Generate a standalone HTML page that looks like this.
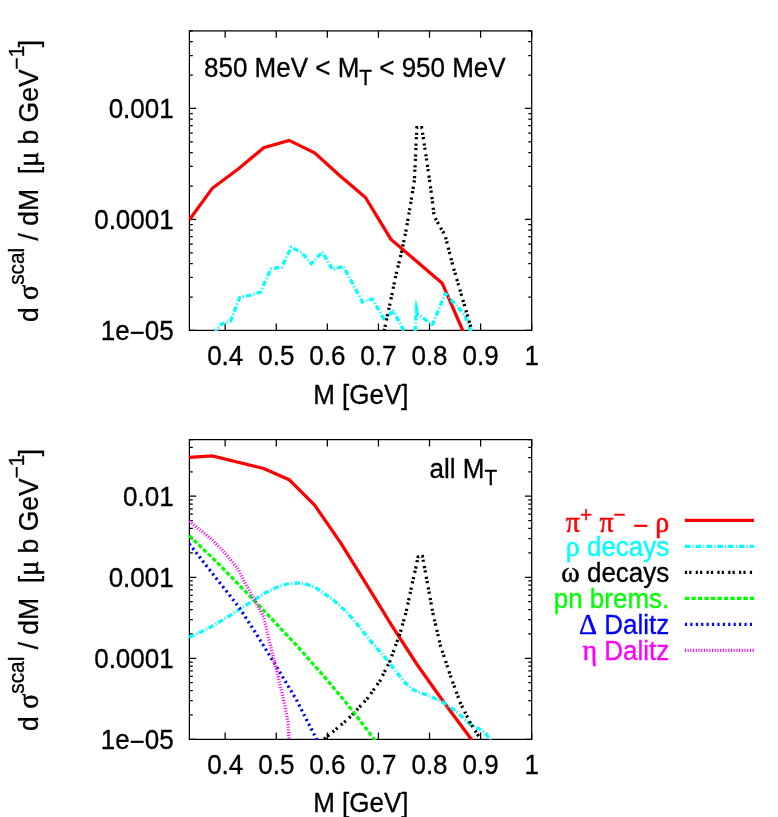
<!DOCTYPE html><html><head><meta charset="utf-8"><title>plot</title><style>html,body{margin:0;padding:0;background:#fff}svg{display:block;will-change:transform}text{font-family:"Liberation Sans",sans-serif;font-size:26px;fill:#000}.sy{font-family:"Liberation Serif",serif;font-size:28px;stroke-width:.5px}</style></head><body>
<svg width="778" height="817" viewBox="0 0 778 817">
<rect width="778" height="817" fill="#fff"/>
<defs><clipPath id="ct"><rect x="188.9" y="30.4" width="343.3" height="300.5"/></clipPath><clipPath id="cb"><rect x="188.9" y="439.1" width="343.3" height="300.8"/></clipPath></defs>
<path d="M189.4,330.40h6.8 M531.7,330.40h-6.8 M189.4,297.00h3.4 M531.7,297.00h-3.4 M189.4,277.45h3.4 M531.7,277.45h-3.4 M189.4,263.59h3.4 M531.7,263.59h-3.4 M189.4,252.84h3.4 M531.7,252.84h-3.4 M189.4,244.05h3.4 M531.7,244.05h-3.4 M189.4,236.62h3.4 M531.7,236.62h-3.4 M189.4,230.19h3.4 M531.7,230.19h-3.4 M189.4,224.51h3.4 M531.7,224.51h-3.4 M189.4,219.43h6.8 M531.7,219.43h-6.8 M189.4,186.03h3.4 M531.7,186.03h-3.4 M189.4,166.49h3.4 M531.7,166.49h-3.4 M189.4,152.62h3.4 M531.7,152.62h-3.4 M189.4,141.87h3.4 M531.7,141.87h-3.4 M189.4,133.08h3.4 M531.7,133.08h-3.4 M189.4,125.65h3.4 M531.7,125.65h-3.4 M189.4,119.22h3.4 M531.7,119.22h-3.4 M189.4,113.54h3.4 M531.7,113.54h-3.4 M189.4,108.46h6.8 M531.7,108.46h-6.8 M189.4,75.06h3.4 M531.7,75.06h-3.4 M189.4,55.52h3.4 M531.7,55.52h-3.4 M189.4,41.65h3.4 M531.7,41.65h-3.4 M189.4,30.90h3.4 M531.7,30.90h-3.4 M225.16,330.4v-6.8 M225.16,30.9v6.8 M276.25,330.4v-6.8 M276.25,30.9v6.8 M327.34,330.4v-6.8 M327.34,30.9v6.8 M378.43,330.4v-6.8 M378.43,30.9v6.8 M429.52,330.4v-6.8 M429.52,30.9v6.8 M480.61,330.4v-6.8 M480.61,30.9v6.8 M531.70,330.4v-6.8 M531.70,30.9v6.8" stroke="#000" stroke-width="1.25" fill="none"/>
<rect x="189.4" y="30.9" width="342.3" height="299.5" fill="none" stroke="#000" stroke-width="1.25"/>
<text xml:space="preserve" transform="translate(173.7,117.8) scale(1,1.060)" text-anchor="end" style="stroke:#000;stroke-width:.3px">0.001</text>
<text xml:space="preserve" transform="translate(173.7,228.7) scale(1,1.060)" text-anchor="end" style="stroke:#000;stroke-width:.3px">0.0001</text>
<text xml:space="preserve" transform="translate(173.7,339.7) scale(1,1.060)" text-anchor="end" style="stroke:#000;stroke-width:.3px">1e<tspan dy="1.8">−</tspan><tspan dy="-1.8">05</tspan></text>
<text xml:space="preserve" transform="translate(225.2,365.4) scale(1,1.060)" text-anchor="middle" style="stroke:#000;stroke-width:.3px">0.4</text>
<text xml:space="preserve" transform="translate(276.3,365.4) scale(1,1.060)" text-anchor="middle" style="stroke:#000;stroke-width:.3px">0.5</text>
<text xml:space="preserve" transform="translate(327.3,365.4) scale(1,1.060)" text-anchor="middle" style="stroke:#000;stroke-width:.3px">0.6</text>
<text xml:space="preserve" transform="translate(378.4,365.4) scale(1,1.060)" text-anchor="middle" style="stroke:#000;stroke-width:.3px">0.7</text>
<text xml:space="preserve" transform="translate(429.5,365.4) scale(1,1.060)" text-anchor="middle" style="stroke:#000;stroke-width:.3px">0.8</text>
<text xml:space="preserve" transform="translate(480.6,365.4) scale(1,1.060)" text-anchor="middle" style="stroke:#000;stroke-width:.3px">0.9</text>
<text xml:space="preserve" transform="translate(531.7,365.4) scale(1,1.060)" text-anchor="middle" style="stroke:#000;stroke-width:.3px">1</text>
<text xml:space="preserve" transform="translate(360.9,403.7) scale(1,1.060)" text-anchor="middle" style="stroke:#000;stroke-width:.3px">M [GeV]</text>
<text xml:space="preserve" transform="translate(38.0,181.0) rotate(-90) scale(1,1.060)" text-anchor="middle" style="stroke:#000;stroke-width:.3px"><tspan font-size="26.5">d </tspan><tspan class="sy">σ</tspan><tspan font-size="20.8" dy="-13">scal</tspan><tspan dy="13" font-size="26.5"> / dM  [</tspan><tspan class="sy" font-size="26.5">μ</tspan><tspan font-size="26.5"> b GeV</tspan><tspan font-size="20.8" dy="-13">−1</tspan><tspan dy="13" dx="-1.7" font-size="26.5">]</tspan></text>
<g clip-path="url(#ct)">
<path d="M189.2,220.0 L212.3,188.3 L238.2,169.0 L263.7,147.8 L289.1,140.4 L314.6,152.9 L339.6,175.5 L365.5,197.5 L390.8,239.2 L442.2,283.2 L467.8,342.0" fill="none" stroke="#ff0000" stroke-width="3.25" stroke-linejoin="miter" stroke-miterlimit="10" />
<path d="M213.5,334.0 L221.5,324.0 L230.4,321.2 L239.8,297.5 L250.5,295.2 L260.6,292.0 L270.8,269.0 L281.8,267.0 L291.3,247.2 L301.6,252.6 L311.4,263.7 L322.3,252.0 L332.6,269.6 L343.2,266.2 L352.9,284.0 L362.4,302.0 L372.5,299.1 L383.6,318.5 L393.5,311.6 L405.2,333.0" fill="none" stroke="#00ffff" stroke-width="3.25" stroke-dasharray="5.415,2.166,1.083,2.166" stroke-linejoin="miter" stroke-miterlimit="10" />
<path d="M415.0,334.0 L416.2,310.0 L417.0,313.6 L432.4,324.9 L445.3,293.3 L465.0,315.3 L471.4,333.0" fill="none" stroke="#00ffff" stroke-width="3.25" stroke-dasharray="5.415,2.166,1.083,2.166" stroke-dashoffset="8.1" stroke-linejoin="bevel"/>
<path d="M415.7,298.8 L414.6,310 L418.9,311 Z" fill="#00ffff"/>
<path d="M383.6,333.0 L384.3,329.9 L390.5,301.4 L395.9,275.2 L402.0,250.5 L406.6,227.5 L409.1,212.8 L412.5,192.2 L414.4,180.5 L415.4,158.5 L416.9,127.6 L421.7,127.6 L424.2,143.8 L426.4,158.5 L429.6,180.5 L432.6,202.5 L434.0,215.7 L440.4,227.5 L445.0,235.0 L452.9,265.9 L460.6,292.1 L472.6,333.0" fill="none" stroke="#000000" stroke-width="3.25" stroke-dasharray="2.166,2.166,2.166,4.332" stroke-linejoin="miter" stroke-miterlimit="10" stroke-dashoffset="8.85"/>
</g>
<text xml:space="preserve" transform="translate(204.0,77.3) scale(1,1.060)" text-anchor="start" style="stroke:#000;stroke-width:.3px">850 MeV &lt; M<tspan font-size="20.8" dy="7.2">T</tspan><tspan dy="-7.2"> &lt; 950 MeV</tspan></text>
<path d="M189.4,739.35h6.8 M531.7,739.35h-6.8 M189.4,714.96h3.4 M531.7,714.96h-3.4 M189.4,700.69h3.4 M531.7,700.69h-3.4 M189.4,690.56h3.4 M531.7,690.56h-3.4 M189.4,682.71h3.4 M531.7,682.71h-3.4 M189.4,676.29h3.4 M531.7,676.29h-3.4 M189.4,670.87h3.4 M531.7,670.87h-3.4 M189.4,666.17h3.4 M531.7,666.17h-3.4 M189.4,662.02h3.4 M531.7,662.02h-3.4 M189.4,658.31h6.8 M531.7,658.31h-6.8 M189.4,633.92h3.4 M531.7,633.92h-3.4 M189.4,619.65h3.4 M531.7,619.65h-3.4 M189.4,609.53h3.4 M531.7,609.53h-3.4 M189.4,601.67h3.4 M531.7,601.67h-3.4 M189.4,595.26h3.4 M531.7,595.26h-3.4 M189.4,589.83h3.4 M531.7,589.83h-3.4 M189.4,585.13h3.4 M531.7,585.13h-3.4 M189.4,580.99h3.4 M531.7,580.99h-3.4 M189.4,577.28h6.8 M531.7,577.28h-6.8 M189.4,552.88h3.4 M531.7,552.88h-3.4 M189.4,538.61h3.4 M531.7,538.61h-3.4 M189.4,528.49h3.4 M531.7,528.49h-3.4 M189.4,520.64h3.4 M531.7,520.64h-3.4 M189.4,514.22h3.4 M531.7,514.22h-3.4 M189.4,508.79h3.4 M531.7,508.79h-3.4 M189.4,504.09h3.4 M531.7,504.09h-3.4 M189.4,499.95h3.4 M531.7,499.95h-3.4 M189.4,496.24h6.8 M531.7,496.24h-6.8 M189.4,471.85h3.4 M531.7,471.85h-3.4 M189.4,457.58h3.4 M531.7,457.58h-3.4 M189.4,447.45h3.4 M531.7,447.45h-3.4 M189.4,439.60h3.4 M531.7,439.60h-3.4 M225.16,739.4v-6.8 M225.16,439.6v6.8 M276.25,739.4v-6.8 M276.25,439.6v6.8 M327.34,739.4v-6.8 M327.34,439.6v6.8 M378.43,739.4v-6.8 M378.43,439.6v6.8 M429.52,739.4v-6.8 M429.52,439.6v6.8 M480.61,739.4v-6.8 M480.61,439.6v6.8 M531.70,739.4v-6.8 M531.70,439.6v6.8" stroke="#000" stroke-width="1.25" fill="none"/>
<rect x="189.4" y="439.6" width="342.3" height="299.8" fill="none" stroke="#000" stroke-width="1.25"/>
<text xml:space="preserve" transform="translate(173.7,505.5) scale(1,1.060)" text-anchor="end" style="stroke:#000;stroke-width:.3px">0.01</text>
<text xml:space="preserve" transform="translate(173.7,586.6) scale(1,1.060)" text-anchor="end" style="stroke:#000;stroke-width:.3px">0.001</text>
<text xml:space="preserve" transform="translate(173.7,667.6) scale(1,1.060)" text-anchor="end" style="stroke:#000;stroke-width:.3px">0.0001</text>
<text xml:space="preserve" transform="translate(173.7,748.6) scale(1,1.060)" text-anchor="end" style="stroke:#000;stroke-width:.3px">1e<tspan dy="1.8">−</tspan><tspan dy="-1.8">05</tspan></text>
<text xml:space="preserve" transform="translate(225.2,774.4) scale(1,1.060)" text-anchor="middle" style="stroke:#000;stroke-width:.3px">0.4</text>
<text xml:space="preserve" transform="translate(276.3,774.4) scale(1,1.060)" text-anchor="middle" style="stroke:#000;stroke-width:.3px">0.5</text>
<text xml:space="preserve" transform="translate(327.3,774.4) scale(1,1.060)" text-anchor="middle" style="stroke:#000;stroke-width:.3px">0.6</text>
<text xml:space="preserve" transform="translate(378.4,774.4) scale(1,1.060)" text-anchor="middle" style="stroke:#000;stroke-width:.3px">0.7</text>
<text xml:space="preserve" transform="translate(429.5,774.4) scale(1,1.060)" text-anchor="middle" style="stroke:#000;stroke-width:.3px">0.8</text>
<text xml:space="preserve" transform="translate(480.6,774.4) scale(1,1.060)" text-anchor="middle" style="stroke:#000;stroke-width:.3px">0.9</text>
<text xml:space="preserve" transform="translate(531.7,774.4) scale(1,1.060)" text-anchor="middle" style="stroke:#000;stroke-width:.3px">1</text>
<text xml:space="preserve" transform="translate(360.9,812.2) scale(1,1.060)" text-anchor="middle" style="stroke:#000;stroke-width:.3px">M [GeV]</text>
<text xml:space="preserve" transform="translate(38.0,589.9) rotate(-90) scale(1,1.060)" text-anchor="middle" style="stroke:#000;stroke-width:.3px"><tspan font-size="26.5">d </tspan><tspan class="sy">σ</tspan><tspan font-size="20.8" dy="-13">scal</tspan><tspan dy="13" font-size="26.5"> / dM  [</tspan><tspan class="sy" font-size="26.5">μ</tspan><tspan font-size="26.5"> b GeV</tspan><tspan font-size="20.8" dy="-13">−1</tspan><tspan dy="13" dx="-1.7" font-size="26.5">]</tspan></text>
<g clip-path="url(#cb)">
<path d="M189.2,457.4 L212.3,455.8 L263.7,468.5 L289.1,479.7 L314.6,505.1 L340.5,542.6 L365.7,583.1 L391.2,624.6 L416.7,664.0 L442.2,700.0 L467.8,734.5 L493.3,770.0" fill="none" stroke="#ff0000" stroke-width="3.25" stroke-linejoin="miter" stroke-miterlimit="10" />
<path d="M189.2,637.2 L208.1,628.6 L231.3,614.7 L254.4,599.7 L265.0,593.0 L277.5,587.0 L287.0,584.0 L297.2,583.0 L306.0,584.2 L314.6,587.0 L333.1,599.7 L347.0,612.4 L355.0,621.6 L370.1,640.4 L387.6,660.5 L400.2,676.8 L406.0,683.5 L412.7,689.4 L418.0,692.0 L425.3,694.4 L440.4,700.7 L455.4,710.7 L470.5,724.5 L480.5,729.6 L486.0,734.0 L493.0,743.0" fill="none" stroke="#00ffff" stroke-width="3.25" stroke-dasharray="5.415,2.166,1.083,2.166" stroke-linejoin="miter" stroke-miterlimit="10" />
<path d="M322.0,741.0 L326.1,737.4 L347.0,720.0 L355.0,712.0 L367.6,698.2 L380.1,680.6 L390.2,660.5 L400.2,632.9 L405.6,614.0 L409.7,595.5 L412.8,581.1 L415.8,567.8 L418.1,557.0 L421.4,556.6" fill="none" stroke="#000000" stroke-width="3.25" stroke-dasharray="2.166,2.166,2.166,4.332" stroke-linejoin="miter" stroke-miterlimit="10" stroke-dashoffset="7.84"/>
<path d="M421.4,556.6 L422.5,556.5 L427.8,585.2 L432.8,612.8 L440.4,645.4 L450.4,675.6 L460.4,703.2 L470.5,723.3 L479.3,737.1 L482.0,742.0" fill="none" stroke="#000000" stroke-width="3.25" stroke-dasharray="2.166,2.166,2.166,4.332" stroke-linejoin="miter" stroke-miterlimit="10" />
<path d="M189.2,535.6 L219.7,565.0 L259.0,605.5 L296.1,644.8 L323.8,676.1 L347.0,703.8 L365.0,727.0 L376.0,742.0" fill="none" stroke="#00ff00" stroke-width="3.25" stroke-dasharray="4.332,2.166" stroke-linejoin="miter" stroke-miterlimit="10" />
<path d="M189.2,543.7 L205.8,565.0 L239.4,607.8 L254.4,630.9 L275.2,664.5 L296.1,699.2 L318.0,742.0" fill="none" stroke="#0000ff" stroke-width="3.25" stroke-dasharray="2.166,3.249" stroke-linejoin="miter" stroke-miterlimit="10" />
<path d="M189.2,521.1 L212.8,540.3 L225.0,553.0 L238.2,569.2 L245.2,583.5 L254.4,599.7 L263.7,617.1 L270.6,646.0 L277.5,673.7 L284.5,703.8 L288.0,722.3 L289.1,742.0" fill="none" stroke="#ff00ff" stroke-width="3.25" stroke-dasharray="1.083,1.624" stroke-linejoin="miter" stroke-miterlimit="10" />
</g>
<text xml:space="preserve" transform="translate(429.5,477.8) scale(1,1.060)" text-anchor="start" style="stroke:#000;stroke-width:.3px">all M<tspan font-size="20.8" dy="7.2">T</tspan></text>
<text xml:space="preserve" transform="translate(669.3,531.9) scale(1,1.060)" text-anchor="end" style="fill:#ff0000;stroke:#ff0000;stroke-width:.3px"><tspan class="sy">π</tspan><tspan font-size="20.8" dy="-9.3">+</tspan><tspan dy="9.3"> </tspan><tspan class="sy">π</tspan><tspan font-size="20.8" dy="-9.3">−</tspan><tspan dy="11.8"> − </tspan><tspan class="sy" dy="-2.5">ρ</tspan></text>
<path d="M684.9,520.4 L754.0,520.4" fill="none" stroke="#ff0000" stroke-width="3.25" stroke-linejoin="miter" stroke-miterlimit="10" />
<text xml:space="preserve" transform="translate(669.3,555.5) scale(1,1.060)" text-anchor="end" style="fill:#00ffff;stroke:#00ffff;stroke-width:.3px"><tspan class="sy">ρ</tspan> decays</text>
<path d="M684.9,546.4 L754.0,546.4" fill="none" stroke="#00ffff" stroke-width="3.25" stroke-dasharray="5.415,2.166,1.083,2.166" stroke-linejoin="miter" stroke-miterlimit="10" />
<text xml:space="preserve" transform="translate(669.3,581.5) scale(1,1.060)" text-anchor="end" style="fill:#000000;stroke:#000000;stroke-width:.3px"><tspan class="sy">ω</tspan> decays</text>
<path d="M684.9,572.4 L754.0,572.4" fill="none" stroke="#000000" stroke-width="3.25" stroke-dasharray="2.166,2.166,2.166,4.332" stroke-linejoin="miter" stroke-miterlimit="10" />
<text xml:space="preserve" transform="translate(669.3,607.5) scale(1,1.060)" text-anchor="end" style="fill:#00ff00;stroke:#00ff00;stroke-width:.3px">pn brems.</text>
<path d="M684.9,598.4 L754.0,598.4" fill="none" stroke="#00ff00" stroke-width="3.25" stroke-dasharray="4.332,2.166" stroke-linejoin="miter" stroke-miterlimit="10" />
<text xml:space="preserve" transform="translate(669.3,633.5) scale(1,1.060)" text-anchor="end" style="fill:#0000ff;stroke:#0000ff;stroke-width:.3px"><tspan class="sy" font-size="26.5">Δ</tspan> Dalitz</text>
<path d="M684.9,624.4 L754.0,624.4" fill="none" stroke="#0000ff" stroke-width="3.25" stroke-dasharray="2.166,3.249" stroke-linejoin="miter" stroke-miterlimit="10" />
<text xml:space="preserve" transform="translate(669.3,659.5) scale(1,1.060)" text-anchor="end" style="fill:#ff00ff;stroke:#ff00ff;stroke-width:.3px"><tspan class="sy">η</tspan> Dalitz</text>
<path d="M684.9,650.4 L754.0,650.4" fill="none" stroke="#ff00ff" stroke-width="3.25" stroke-dasharray="1.083,1.624" stroke-linejoin="miter" stroke-miterlimit="10" />
</svg></body></html>
